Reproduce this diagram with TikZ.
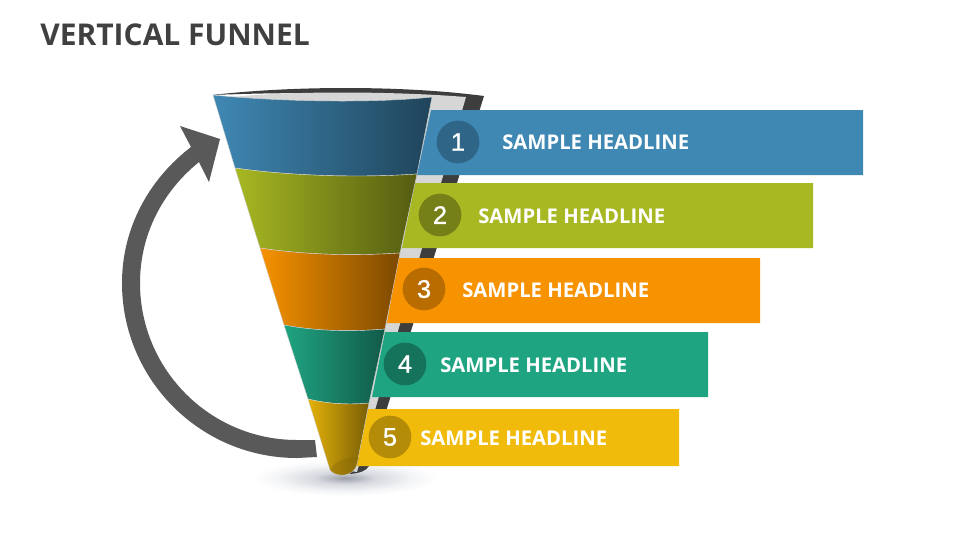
\documentclass[tikz,border=0pt]{standalone}
\usepackage{fontspec}
\setmainfont{Open Sans}
\newfontfamily\numfont[FakeBold=1.2]{Liberation Sans}
\definecolor{barone}{HTML}{3F88B4}
\definecolor{bartwo}{HTML}{A7B822}
\definecolor{barthree}{HTML}{F79200}
\definecolor{barfour}{HTML}{1FA482}
\definecolor{barfive}{HTML}{F0BB0A}
\definecolor{groundcore}{HTML}{9A9EA8}
\definecolor{groundmid}{HTML}{D5D8DE}
\definecolor{groundedge}{HTML}{F3F4F6}
\pgfdeclareradialshading{groundglow}{\pgfpoint{0bp}{0bp}}{color(0bp)=(groundcore); color(8bp)=(groundmid); color(18bp)=(groundedge); color(25bp)=(white); color(50bp)=(white)}
\tikzset{
  headline/.style={anchor=west,inner sep=0pt,text=white,font=\fontsize{15.2}{18}\selectfont\bfseries},
  badge/.style={circle,minimum size=32pt,inner sep=0pt,text=white,font=\numfont\fontsize{19}{21}\selectfont},
  band/.style={draw=white!65!gray,line width=0.3pt}
}
\begin{document}
\begin{tikzpicture}[x=0.75pt,y=-0.75pt]
\useasboundingbox (0,0) rectangle (960,540);
\node[anchor=west,inner sep=0pt,text=black!75,font=\fontsize{22.5}{26}\selectfont\bfseries] (title) at (40,35) {VERTICAL FUNNEL};
% ground shadow
\shade[shading=groundglow] (345,478) ellipse [x radius=92,y radius=18];
% back of the funnel
\fill[black!76] (212,95) .. controls (290,86) and (400,85) .. (484,96) -- (369,466) .. controls (366,471) and (360,473) .. (350,474) -- (400,200) -- (432,100) .. controls (360,92) and (290,92) .. cycle;
\fill[black!16] (232,97) .. controls (290,91) and (390,91) .. (466,97) -- (357,472) -- (345,470) -- (400,200) -- cycle;
% headline bars
\fill[barone] (431,110) -- (863,110) -- (863,175) -- (417,175) -- cycle;
\fill[bartwo] (415,183) -- (813,183) -- (813,248) -- (402,248) -- cycle;
\fill[barthree] (398,258) -- (760,258) -- (760,323) -- (387,323) -- cycle;
\fill[barfour] (385,332) -- (708,332) -- (708,397) -- (372,397) -- cycle;
\fill[barfive] (368,409) -- (679,409) -- (679,466) -- (356,466) -- cycle;
% funnel
\shade[band,left color=barone,right color=barone!50!black] (213,95) .. controls (270,101) and (370,104) .. (432,97) -- (417,174) .. controls (360,178) and (290,176) .. (235,168) -- cycle;
\shade[band,left color=bartwo,right color=bartwo!50!black] (235,168) .. controls (290,176) and (360,178) .. (417,174) -- (400,253) .. controls (355,256) and (305,255) .. (260,248) -- cycle;
\shade[band,left color=barthree,right color=barthree!50!black] (260,248) .. controls (305,255) and (355,256) .. (400,253) -- (385,329) .. controls (350,332) and (315,331) .. (284,325) -- cycle;
\shade[band,left color=barfour,right color=barfour!55!black] (284,325) .. controls (315,331) and (350,332) .. (385,329) -- (369,403) .. controls (350,405) and (328,404) .. (308,399) -- cycle;
\shade[band,left color=barfive!95!black,right color=barfive!50!black] (308,399) .. controls (328,404) and (350,405) .. (369,403) -- (357,464) .. controls (354,477) and (336,478) .. (330,470) -- cycle;
\fill[barfive!55!black,opacity=0.35] (330,470) .. controls (334,462) and (345,456) .. (359,458) -- (357,464) .. controls (354,477) and (336,478) .. cycle;
% return arrow
\fill[black!65] (191,147) .. controls (148,180) and (122,229) .. (122,283) .. controls (122,379.6) and (200.4,458) .. (297,458) -- (317,457) -- (315,440) -- (297,440) .. controls (210.3,440) and (140,369.7) .. (140,283) .. controls (140,235) and (162,192) .. (199,162) -- (209,182) -- (220,139) -- (180,126) -- cycle;
% numbers
\node[badge,fill=barone!75!black] (one) at (458,142) {1};
\node[badge,fill=bartwo!70!black] (two) at (440,215) {2};
\node[badge,fill=barthree!75!black] (three) at (424,289) {3};
\node[badge,fill=barfour!70!black] (four) at (405,364) {4};
\node[badge,fill=barfive!75!black] (five) at (390,437) {5};
% texts
\node[headline] (headone) at (502,142) {SAMPLE HEADLINE};
\node[headline] (headtwo) at (478,216) {SAMPLE HEADLINE};
\node[headline] (headthree) at (462,290) {SAMPLE HEADLINE};
\node[headline] (headfour) at (440,365) {SAMPLE HEADLINE};
\node[headline] (headfive) at (420,438) {SAMPLE HEADLINE};
\end{tikzpicture}
\end{document}
